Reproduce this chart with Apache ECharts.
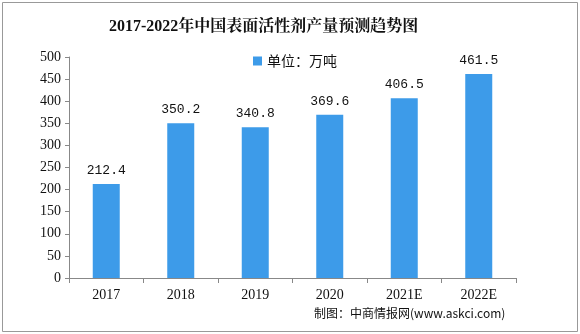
<!DOCTYPE html>
<html>
<head>
<meta charset="utf-8">
<script src="https://cdn.jsdelivr.net/npm/echarts@6/dist/echarts.min.js"></script>
<style>
  html, body { margin: 0; padding: 0; background: #fff; }
  #chart { width: 580px; height: 334px; }
</style>
</head>
<body>
<div id="chart"></div>
<script>
// 中国表面活性剂产量（万吨）
const years = ['2017', '2018', '2019', '2020', '2021E', '2022E'];
const output = [212.4, 350.2, 340.8, 369.6, 406.5, 461.5];
const yTicks = { min: 0, max: 500, interval: 50 };

const serif = '"Liberation Serif", "DejaVu Serif", serif';
const mono = '"Liberation Mono", "DejaVu Sans Mono", monospace';
const sans = '"Noto Sans CJK SC", sans-serif';
const chart = echarts.init(document.getElementById('chart'));
chart.setOption({
  backgroundColor: '#fff',
  animation: false,
  title: {
    text: '2017-2022年中国表面活性剂产量预测趋势图',
    left: 104,
    top: 14,
    textStyle: { fontFamily: '"Liberation Serif", "Noto Serif CJK SC", serif', fontSize: 16, fontWeight: 'bold', color: '#111' }
  },
  legend: {
    data: ['单位：万吨'],
    left: 248,
    top: 49,
    itemWidth: 9,
    itemHeight: 9,
    itemGap: 3,
    icon: 'rect',
    textStyle: { fontFamily: sans, fontSize: 14, color: '#111' }
  },
  grid: { left: 69, right: 64, top: 57, bottom: 56, containLabel: false },
  xAxis: {
    type: 'category',
    data: years,
    axisLine: { lineStyle: { color: '#888' } },
    axisTick: { show: true, length: 5, lineStyle: { color: '#888' } },
    axisLabel: { fontFamily: serif, fontSize: 14, color: '#111', margin: 10 }
  },
  yAxis: {
    type: 'value',
    min: yTicks.min,
    max: yTicks.max,
    interval: yTicks.interval,
    splitLine: { show: false },
    axisLine: { show: true, lineStyle: { color: '#888' } },
    axisTick: { show: true, length: 4, lineStyle: { color: '#888' } },
    axisLabel: { fontFamily: serif, fontSize: 14, color: '#111', margin: 8 }
  },
  series: [{
    name: '单位：万吨',
    type: 'bar',
    data: output,
    barWidth: 27,
    itemStyle: { color: '#3d9be9' },
    label: {
      show: true,
      position: 'top',
      distance: 7,
      fontFamily: mono,
      fontSize: 13,
      color: '#111',
      formatter: p => p.value.toFixed(1)
    }
  }],
  graphic: [
    {
      type: 'rect',
      shape: { x: 2.5, y: 2.5, width: 575, height: 329 },
      style: { fill: 'none', stroke: '#999', lineWidth: 1 }
    },
    {
      type: 'text',
      left: 314,
      top: 307,
      style: {
        text: '制图：中商情报网(www.askci.com)',
        fontFamily: sans,
        fontSize: 12,
        fill: '#111'
      }
    }
  ]
});
</script>
</body>
</html>
